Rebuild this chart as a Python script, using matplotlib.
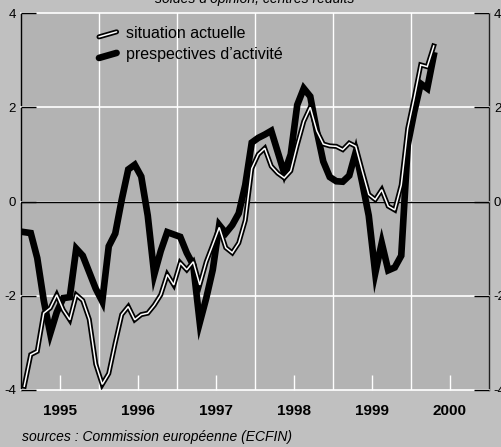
import numpy as np
import pandas as pd
import matplotlib
matplotlib.use("Agg")
import matplotlib.pyplot as plt
from matplotlib.lines import Line2D
from matplotlib.legend_handler import HandlerBase
import matplotlib.patheffects as pe

plt.rcParams['font.family'] = ['Liberation Sans', 'DejaVu Sans']

# ---- data (monthly, Jan 1995 - Apr 2000) ----
periods = pd.period_range('1995-01', '2000-04', freq='M')
situation_actuelle = [
    -3.92, -3.25, -3.18, -2.37, -2.26, -1.98, -2.30, -2.51, -1.98, -2.10, -2.50, -3.45,
    -3.88, -3.65, -3.00, -2.40, -2.23, -2.51, -2.40, -2.37, -2.20, -1.98, -1.55, -1.77,
    -1.30, -1.45, -1.28, -1.77, -1.28, -0.92, -0.55, -0.98, -1.09, -0.88, -0.40, 0.70,
    1.00, 1.13, 0.75, 0.60, 0.50, 0.65, 1.20, 1.70, 2.00, 1.50, 1.22, 1.18,
    1.17, 1.10, 1.24, 1.17, 0.65, 0.15, 0.04, 0.25, -0.10, -0.18, 0.35, 1.55,
    2.20, 2.90, 2.86, 3.30,
]
perspectives_activite = [
    -0.65, -0.67, -1.20, -2.10, -2.80, -2.35, -2.05, -2.03, -1.00, -1.15, -1.50, -1.85,
    -2.12, -0.95, -0.68, 0.04, 0.68, 0.78, 0.53, -0.30, -1.55, -1.05, -0.65, -0.70,
    -0.75, -1.09, -1.35, -2.57, -2.05, -1.45, -0.50, -0.67, -0.50, -0.25, 0.35, 1.25,
    1.35, 1.42, 1.50, 1.05, 0.60, 1.00, 2.05, 2.40, 2.23, 1.50, 0.85, 0.52,
    0.43, 0.42, 0.55, 1.05, 0.40, -0.30, -1.52, -0.88, -1.46, -1.40, -1.15, 1.20,
    1.90, 2.50, 2.40, 3.10,
]
year_labels = ['1995', '1996', '1997', '1998', '1999', '2000']
y_ticks = [-4, -2, 0, 2, 4]
title = "soldes d’opinion, centrés réduits"
source = "sources : Commission européenne (ECFIN)"
label_situation = "situation actuelle"
label_perspectives = "prespectives d’activité"

# decimal-year position at mid-month
x = np.array([p.year + (p.month - 0.5) / 12 for p in periods])
years = np.array([int(y) for y in year_labels])

FIG_BG = '#c0c0c0'
AX_BG = '#b3b3b3'

fig = plt.figure(figsize=(5.02, 4.47), dpi=100, facecolor=FIG_BG)
ax = fig.add_axes([21 / 502, 1 - 390 / 447, 468 / 502, 377 / 447])
ax.set_facecolor(AX_BG)

ax.set_xlim(years[0], years[-1] + 1)
ax.set_ylim(y_ticks[0], y_ticks[-1])

# spines
for s in ['top', 'bottom']:
    ax.spines[s].set_visible(False)
ax.spines['left'].set_color('black')
ax.spines['right'].set_color('#202020')
ax.spines['left'].set_linewidth(1.0)
ax.spines['right'].set_linewidth(1.0)

# x axis: labels at mid-year with short white ticks; white gridlines at year boundaries
ax.set_xticks(years + 0.5)
ax.set_xticklabels(year_labels, fontweight='bold', fontsize=11)
ax.set_xticks(years[1:], minor=True)
ax.tick_params(axis='x', which='major', direction='in', length=11, width=1,
               color='white', pad=10, labelsize=11)
ax.tick_params(axis='x', which='minor', length=0)
ax.grid(axis='x', which='minor', color='white', linewidth=1.0)

# y axis: ticks both sides, labels both sides
ax.set_yticks(y_ticks)
ax.set_yticklabels([str(v) for v in y_ticks])
ax.tick_params(axis='y', which='major', direction='in', length=11, width=1,
               color='black', left=True, right=True, labelleft=True, labelright=True,
               pad=3.5, labelsize=9.5)
ax.grid(axis='y', which='major', color='white', linewidth=1.2)
for gl in ax.yaxis.get_gridlines():
    gl.set_clip_on(False)

ax.xaxis.set_zorder(3)
ax.yaxis.set_zorder(3)

ax.axhline(0, color='black', linewidth=1.0, zorder=3.5)

# data lines
outline = [pe.Stroke(linewidth=3.6, foreground='black'), pe.Normal()]
l2, = ax.plot(x, perspectives_activite, color='black', linewidth=4.8,
              solid_joinstyle='miter', zorder=4, label=label_perspectives)
l1, = ax.plot(x, situation_actuelle, color='white', linewidth=1.1,
              solid_joinstyle='miter', zorder=5, path_effects=outline,
              label=label_situation)


class SlantHandler(HandlerBase):
    def create_artists(self, legend, orig_handle, xdescent, ydescent,
                       width, height, fontsize, trans):
        x0, x1 = -xdescent, -xdescent + width
        y0, y1 = -ydescent + 0.1 * height, -ydescent + 0.55 * height
        line = Line2D([x0, x1], [y0, y1])
        line.update_from(orig_handle)
        line.set_solid_capstyle('round')
        line.set_transform(trans)
        return [line]


leg = ax.legend(handles=[l1, l2], loc='upper left',
                bbox_to_anchor=((99 - 21) / 468, 1 - (26 - 13) / 377),
                frameon=False, fontsize=11.5, handlelength=1.1,
                handletextpad=0.6, borderpad=0, borderaxespad=0,
                labelspacing=0.38,
                handler_map={Line2D: SlantHandler()})
leg.set_zorder(6)

fig.text(255 / 502, 1 - 3.5 / 447, title, ha='center', va='baseline',
         style='italic', fontsize=10)
fig.text(22 / 502, 1 - 437 / 447, source, ha='left', va='center',
         style='italic', fontsize=10)

fig.savefig('out.png', dpi=100, facecolor=FIG_BG)
